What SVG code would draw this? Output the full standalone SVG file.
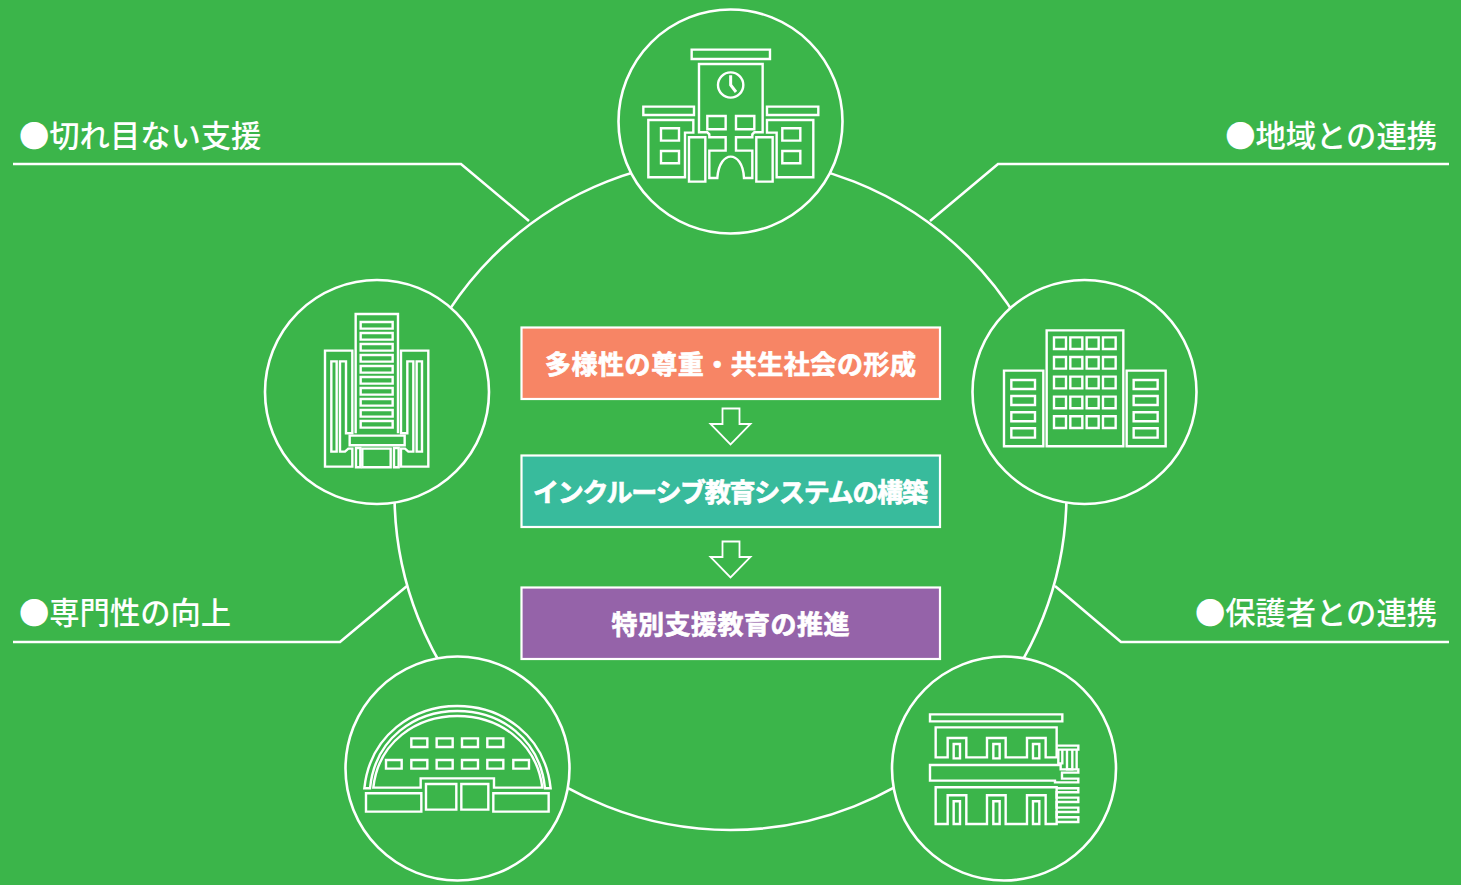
<svg xmlns="http://www.w3.org/2000/svg" width="1461" height="885" viewBox="0 0 1461 885">
<style>
.c{fill:#3BB54A;stroke:#fff;stroke-width:2.6}
.l{fill:none;stroke:#fff;stroke-width:2.6}
.i *{fill:none;stroke:#fff;stroke-width:2.4;vector-effect:non-scaling-stroke}
.b{stroke:#fff;stroke-width:2.2}
.t{font-family:"Noto Sans CJK JP","Noto Sans",sans-serif;font-weight:700;font-size:26px;fill:#fff;stroke:#fff;stroke-width:.7;text-anchor:middle}
.h{font-family:"Noto Sans CJK JP","Noto Sans",sans-serif;font-weight:500;font-size:30.3px;fill:#fff}
.a{fill:#3BB54A;stroke:#fff;stroke-width:1.8}
</style>
<rect width="1461" height="885" fill="#3BB54A"/>
<g id="connectors">
<circle class="l" cx="730.5" cy="494" r="336"/>
<path class="l" d="M13,164H461L529,221"/>
<path class="l" d="M1449,164H998L930,221"/>
<path class="l" d="M13,642H340L407,586"/>
<path class="l" d="M1449,642H1121L1055,586"/>
</g>
<g id="node-school">
<circle class="c" cx="730.5" cy="121.5" r="112"/>
<g class="i" transform="translate(620 20) scale(.3333)">
<rect x="215" y="89" width="235" height="28"/>
<path d="M237,337V132H428V337H403L397,343V352H348V392H397V474H372C370,430 350,410 332,410C315,410 295,430 292,474H268V392H317V352H268V343L262,337Z"/>
<circle cx="332" cy="195" r="38"/>
<path d="M332,166V195L348,216" style="stroke-width:3"/>
<rect x="262" y="288" width="55" height="40"/><rect x="348" y="288" width="55" height="40"/>
<rect x="70" y="260" width="152" height="25"/><rect x="441" y="260" width="154" height="25"/>
<path d="M220,338V300H85V472H195V338Z"/><path d="M441,338V300H580V472H470V338Z"/>
<rect x="123" y="325" width="54" height="37"/><rect x="123" y="393" width="54" height="37"/>
<rect x="487" y="325" width="54" height="37"/><rect x="487" y="393" width="54" height="37"/>
<rect x="207" y="352" width="49" height="133"/><rect x="409" y="352" width="49" height="133"/>
</g>
</g>
<g id="node-tower">
<circle class="c" cx="377" cy="392" r="112"/>
<g class="i" transform="translate(300 300) scale(.3333)">
<path d="M167,400V42H294V400"/>
<rect x="182" y="66" width="96" height="20"/><rect x="182" y="99" width="96" height="20"/><rect x="182" y="132" width="96" height="20"/><rect x="182" y="165" width="96" height="20"/><rect x="182" y="198" width="96" height="20"/><rect x="182" y="231" width="96" height="20"/><rect x="182" y="264" width="96" height="20"/><rect x="182" y="297" width="96" height="20"/><rect x="182" y="330" width="96" height="20"/><rect x="182" y="363" width="96" height="20"/>
<rect x="149" y="407" width="165" height="29"/>
<rect x="187" y="446" width="85" height="56"/><rect x="168" y="444" width="13" height="58"/><rect x="282" y="444" width="14" height="58"/>
<path d="M157,400V152H75V500H157V446H145L135,455H120V184H138V400Z"/>
<rect x="94" y="184" width="16" height="271"/>
<path d="M303,400V152H385V500H303V446H315L325,455H340V184H322V400Z"/>
<rect x="350" y="184" width="16" height="271"/>
</g>
</g>
<g id="node-offices">
<circle class="c" cx="1084.5" cy="392" r="112"/>
<g class="i" transform="translate(990 320) scale(.3333)">
<rect x="170" y="31" width="230" height="348"/>
<rect x="192" y="52" width="36" height="35"/><rect x="241" y="52" width="36" height="35"/><rect x="290" y="52" width="36" height="35"/><rect x="339" y="52" width="38" height="35"/>
<rect x="192" y="111" width="36" height="35"/><rect x="241" y="111" width="36" height="35"/><rect x="290" y="111" width="36" height="35"/><rect x="339" y="111" width="38" height="35"/>
<rect x="192" y="170" width="36" height="35"/><rect x="241" y="170" width="36" height="35"/><rect x="290" y="170" width="36" height="35"/><rect x="339" y="170" width="38" height="35"/>
<rect x="192" y="230" width="36" height="35"/><rect x="241" y="230" width="36" height="35"/><rect x="290" y="230" width="36" height="35"/><rect x="339" y="230" width="38" height="35"/>
<rect x="192" y="289" width="36" height="35"/><rect x="241" y="289" width="36" height="35"/><rect x="290" y="289" width="36" height="35"/><rect x="339" y="289" width="38" height="35"/>
<rect x="42" y="152" width="118" height="227"/>
<rect x="64" y="180" width="71" height="27"/><rect x="64" y="228" width="71" height="27"/><rect x="64" y="277" width="71" height="27"/><rect x="64" y="325" width="71" height="28"/>
<rect x="410" y="152" width="117" height="227"/>
<rect x="431" y="180" width="72" height="27"/><rect x="431" y="228" width="72" height="27"/><rect x="431" y="277" width="72" height="27"/><rect x="431" y="325" width="72" height="28"/>
</g>
</g>
<g id="node-dome">
<circle class="c" cx="457.5" cy="768.5" r="112"/>
<g class="i" transform="translate(350 695) scale(.3333)">
<path d="M43,280C60,120 190,33 322,33C455,33 585,120 602,280H585C570,130 450,48 322,48C195,48 75,130 60,280Z"/>
<path d="M70,278C85,140 200,63 322,63C445,63 560,140 577,278H432V250H212V278Z"/>
<rect x="184" y="130" width="48" height="26"/><rect x="260" y="130" width="48" height="26"/><rect x="336" y="130" width="48" height="26"/><rect x="412" y="130" width="48" height="26"/>
<rect x="108" y="195" width="47" height="26"/><rect x="184" y="195" width="48" height="26"/><rect x="260" y="195" width="48" height="26"/><rect x="336" y="195" width="48" height="26"/><rect x="412" y="195" width="48" height="26"/><rect x="490" y="195" width="47" height="26"/>
<rect x="48" y="295" width="166" height="55"/><rect x="228" y="267" width="91" height="77"/><rect x="334" y="267" width="81" height="77"/><rect x="430" y="295" width="166" height="55"/>
</g>
</g>
<g id="node-house">
<circle class="c" cx="1004" cy="768.5" r="112"/>
<g class="i" transform="translate(915 700) scale(.3333)">
<rect x="45" y="43" width="397" height="21"/>
<path d="M425,172V82H62V172H98V114H154V172H216V114H272V172H336V114H392V172Z"/>
<rect x="116" y="132" width="19" height="43"/><rect x="235" y="132" width="19" height="43"/><rect x="354" y="132" width="19" height="43"/>
<path d="M425,137H490V149H425M430,149V190H442V149M456,149V208H472V149M485,149V208"/>
<path d="M437,195H45V242H420V247H490V236H441V218H490V208H437Z"/>
<path d="M425,262H62V372H98V286H154V372H216V286H272V372H336V286H392V372H425Z"/>
<rect x="116" y="304" width="19" height="68"/><rect x="235" y="304" width="19" height="68"/><rect x="354" y="304" width="19" height="68"/>
<path d="M425,265H490V277H425V293H490V306H425V323H490V336H425V352H490V366H425"/>
</g>
</g>
<g id="box-diversity">
<rect class="b" x="521.5" y="327.5" width="418.5" height="71.5" fill="#F78565"/>
<text class="t" x="730.5" y="374" textLength="371" lengthAdjust="spacing">多様性の尊重・共生社会の形成</text>
</g>
<g id="box-inclusive">
<rect class="b" x="521.5" y="455.5" width="418.5" height="71.5" fill="#38BB9C"/>
<text class="t" x="730.5" y="502" textLength="395" lengthAdjust="spacing">インクルーシブ教育システムの構築</text>
</g>
<g id="box-special">
<rect class="b" x="521.5" y="587.5" width="418.5" height="71.5" fill="#9563A9"/>
<text class="t" x="730.5" y="633.5" textLength="238" lengthAdjust="spacing">特別支援教育の推進</text>
</g>
<g id="arrows">
<path class="a" d="M722.5,408.5H739.5V424H750.5L730.5,444.5L710.5,424H722.5Z"/>
<path class="a" d="M722.5,541.5H739.5V557H750.5L730.5,577.5L710.5,557H722.5Z"/>
</g>
<g id="labels">
<text class="h" x="19" y="147">●切れ目ない支援</text>
<text class="h" x="1437" y="147" text-anchor="end">●地域との連携</text>
<text class="h" x="19" y="624">●専門性の向上</text>
<text class="h" x="1437" y="624" text-anchor="end">●保護者との連携</text>
</g>
</svg>
